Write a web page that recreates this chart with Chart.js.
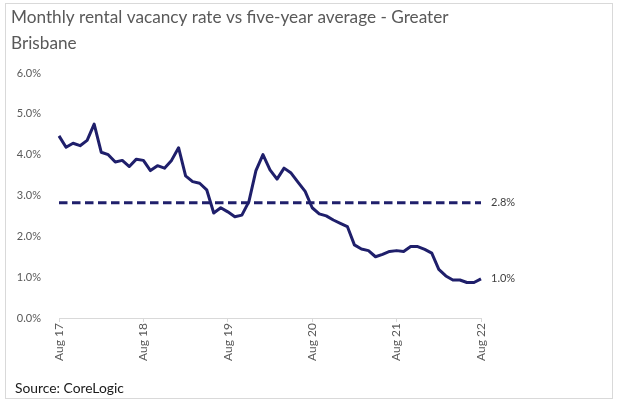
<!DOCTYPE html>
<html><head><meta charset="utf-8">
<script src="https://cdn.jsdelivr.net/npm/chart.js@4"></script>
<style>
html,body{margin:0;padding:0;background:#fff;}
#wrap{position:relative;width:617px;height:408px;}
#frame{position:absolute;left:5px;top:3px;width:606px;height:394px;border:1px solid #d9d9d9;pointer-events:none;}
canvas{display:block;}
</style></head><body>
<div id="wrap"><canvas id="c" width="617" height="408"></canvas><div id="frame"></div></div>
<script>
const titleLines = ['Monthly rental vacancy rate vs five-year average - Greater', 'Brisbane'];
const sourceText = 'Source: CoreLogic';
const months = [
 'Aug 17','Sep 17','Oct 17','Nov 17','Dec 17','Jan 18','Feb 18','Mar 18','Apr 18','May 18','Jun 18','Jul 18',
 'Aug 18','Sep 18','Oct 18','Nov 18','Dec 18','Jan 19','Feb 19','Mar 19','Apr 19','May 19','Jun 19','Jul 19',
 'Aug 19','Sep 19','Oct 19','Nov 19','Dec 19','Jan 20','Feb 20','Mar 20','Apr 20','May 20','Jun 20','Jul 20',
 'Aug 20','Sep 20','Oct 20','Nov 20','Dec 20','Jan 21','Feb 21','Mar 21','Apr 21','May 21','Jun 21','Jul 21',
 'Aug 21','Sep 21','Oct 21','Nov 21','Dec 21','Jan 22','Feb 22','Mar 22','Apr 22','May 22','Jun 22','Jul 22',
 'Aug 22'];
const shownTicks = ['Aug 17','Aug 18','Aug 19','Aug 20','Aug 21','Aug 22'];
const vacancyRate = [
 4.46, 4.18, 4.28, 4.22, 4.35, 4.75, 4.06, 4.00, 3.82, 3.86,
 3.71, 3.89, 3.86, 3.61, 3.73, 3.67, 3.86, 4.17, 3.48, 3.34,
 3.30, 3.14, 2.57, 2.70, 2.60, 2.48, 2.52, 2.85, 3.61, 4.00,
 3.63, 3.40, 3.67, 3.55, 3.32, 3.10, 2.70, 2.55, 2.50, 2.40,
 2.32, 2.24, 1.79, 1.69, 1.65, 1.50, 1.56, 1.63, 1.65, 1.63,
 1.75, 1.75, 1.68, 1.59, 1.19, 1.03, 0.93, 0.93, 0.87, 0.87,
 0.96];
const fiveYearAverage = 2.82;
const yMin = 0, yMax = 6, yStep = 1;

const NAVY = '#1f1f6b';
const FONT = 'Lato, "Open Sans", sans-serif';

function fitSize(ctx, text, weight, family, target, base){
  ctx.font = weight + ' ' + base + 'px ' + family;
  const w = ctx.measureText(text).width;
  return base * target / w;
}

const textPlugin = {
  id: 'texts',
  afterDraw(chart){
    const ctx = chart.ctx;
    ctx.save();
    ctx.textAlign = 'left';
    ctx.textBaseline = 'alphabetic';
    const ts = fitSize(ctx, titleLines[0], '400', FONT, 438, 18);
    ctx.font = '400 ' + ts + 'px ' + FONT;
    ctx.fillStyle = '#595959';
    ctx.fillText(titleLines[0], 11, 23);
    ctx.fillText(titleLines[1], 11, 49);
    const ss = fitSize(ctx, sourceText, '400', FONT, 109, 13);
    ctx.font = '400 ' + ss + 'px ' + FONT;
    ctx.fillStyle = '#1a1a1a';
    ctx.fillText(sourceText, 15, 393);
    ctx.restore();
  }
};

const endLabelPlugin = {
  id: 'endLabels',
  afterDatasetsDraw(chart){
    const ctx = chart.ctx;
    ctx.save();
    ctx.font = '400 11px ' + FONT;
    ctx.fillStyle = '#404040';
    ctx.textAlign = 'left';
    ctx.textBaseline = 'middle';
    chart.data.datasets.forEach((ds, di) => {
      const meta = chart.getDatasetMeta(di);
      const last = meta.data[meta.data.length - 1];
      const raw = ds.data[ds.data.length - 1];
      const v = typeof raw === 'object' ? raw.y : raw;
      ctx.fillText(v.toFixed(1) + '%', last.x + 10, last.y);
    });
    ctx.restore();
  }
};

new Chart(document.getElementById('c'), {
  type: 'line',
  data: {
    labels: months,
    datasets: [
      { label: 'Vacancy rate', data: vacancyRate, borderColor: NAVY, borderWidth: 3,
        pointRadius: 0, tension: 0, fill: false, borderJoinStyle: 'round' },
      { label: 'Five-year average',
        data: [{x: months[0], y: fiveYearAverage}, {x: months[months.length-1], y: fiveYearAverage}],
        borderColor: NAVY, borderWidth: 3, borderDash: [8.5, 4.5], pointRadius: 0, fill: false }
    ]
  },
  options: {
    responsive: false, animation: false, devicePixelRatio: 1,
    layout: { padding: { left: 5, right: 136, top: 73, bottom: 0 } },
    plugins: { legend: { display: false }, tooltip: { enabled: false }, title: { display: false } },
    scales: {
      x: {
        type: 'category', offset: false,
        afterFit(s){ s.height = 90; },
        grid: { display: true, drawOnChartArea: false, drawTicks: true, tickLength: 4, color: '#d9d9d9' },
        border: { display: true, color: '#d9d9d9', width: 1 },
        ticks: {
          autoSkip: false, maxRotation: 90, minRotation: 90, padding: 1,
          color: '#595959', font: { family: FONT, size: 12 },
          callback: function(value){ const l = this.getLabelForValue(value); return shownTicks.includes(l) ? l : null; }
        }
      },
      y: {
        min: yMin, max: yMax,
        afterFit(s){ s.width = 54; },
        grid: { display: false },
        border: { display: false },
        ticks: { stepSize: yStep, padding: 10, color: '#595959', font: { family: FONT, size: 11 },
          callback: v => v.toFixed(1) + '%' }
      }
    }
  },
  plugins: [textPlugin, endLabelPlugin]
});
</script>
</body></html>
